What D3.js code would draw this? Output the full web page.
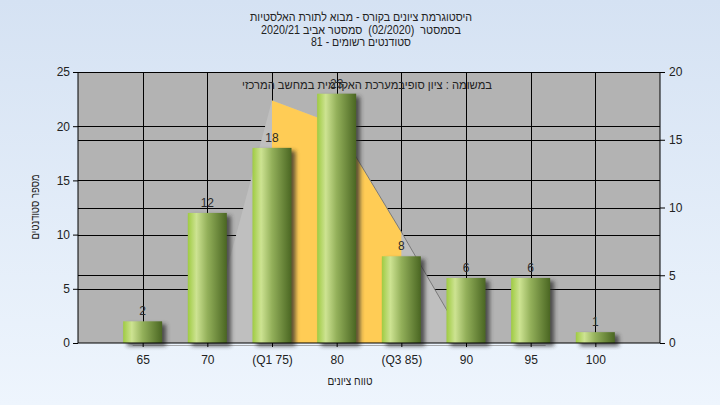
<!DOCTYPE html>
<html><head><meta charset="utf-8">
<script src="https://cdnjs.cloudflare.com/ajax/libs/d3/7.8.5/d3.min.js"></script>
<style>
html,body{margin:0;padding:0;}
svg{display:block;font-family:"Liberation Sans","DejaVu Sans",sans-serif;}
</style>
</head><body>
<svg id="c" width="720" height="405"></svg>
<script>
const titleLines = ["היסטוגרמת ציונים בקורס - מבוא לתורת האלסטיות", "בסמסטר  (02/2020)  סמסטר אביב 2020/21", "סטודנטים רשומים - 81"];
const seriesNote = "במשומה : ציון סופיבמערכת האקדמית במחשב המרכזי";
const yTitle = "מספר סטודנטים";
const xTitle = "טווח ציונים";
const categories = ["65", "70", "(Q1 75)", "80", "(Q3 85)", "90", "95", "100"];
const counts = [2, 12, 18, 23, 8, 6, 6, 1];
const curveCats = ["70", "(Q1 75)", "80", "(Q3 85)", "90"];
const curveVals = [0, 17.9, 16.1, 8.2, 0];
const iqrCats = ["(Q1 75)", "80", "(Q3 85)"];
const leftTicks = [0, 5, 10, 15, 20, 25];
const rightTicks = [0, 5, 10, 15, 20];

const svg = d3.select("#c");
const W = 720, H = 405;
const L = 78, R = 660, T = 72, B = 343;

const defs = svg.append("defs");
const bg = defs.append("linearGradient").attr("id","bg").attr("x1",0).attr("y1",0).attr("x2",0).attr("y2",1);
bg.append("stop").attr("offset","0%").attr("stop-color","#d5e2f3");
bg.append("stop").attr("offset","100%").attr("stop-color","#eef5fd");
const bar = defs.append("linearGradient").attr("id","bar").attr("x1",0).attr("y1",0).attr("x2",1).attr("y2",0);
[["0%","#9fcb42"],["22%","#cde392"],["50%","#93b05a"],["100%","#4a6622"]].forEach(s=>bar.append("stop").attr("offset",s[0]).attr("stop-color",s[1]));
const blur = defs.append("filter").attr("id","blur").attr("x","-30%").attr("y","-30%").attr("width","160%").attr("height","160%");
blur.append("feGaussianBlur").attr("stdDeviation",2);

svg.append("rect").attr("width",W).attr("height",H).attr("fill","url(#bg)");

const x = d3.scalePoint().domain(categories).range([L, R]).padding(1);
const yL = d3.scaleLinear().domain([0, 25]).range([B, T]);
const yR = d3.scaleLinear().domain([0, 20]).range([B, T]);

svg.append("rect").attr("x",L).attr("y",T).attr("width",R-L).attr("height",B-T).attr("fill","#b3b3b3");

// grid
const grid = svg.append("g").attr("stroke","#000").attr("stroke-width",1);
leftTicks.filter(v=>v>0).forEach(v=>grid.append("line").attr("x1",L).attr("x2",R).attr("y1",Math.round(yL(v))+0.5).attr("y2",Math.round(yL(v))+0.5));
rightTicks.filter(v=>v>0).forEach(v=>grid.append("line").attr("x1",L).attr("x2",R).attr("y1",Math.round(yR(v))+0.5).attr("y2",Math.round(yR(v))+0.5));
categories.forEach(c=>grid.append("line").attr("x1",Math.round(x(c))+0.5).attr("x2",Math.round(x(c))+0.5).attr("y1",T).attr("y2",B));

// curve areas
const curve = curveCats.map((c,i)=>({c, v: curveVals[i]}));
const area = d3.area().x(d=>x(d.c)).y0(B).y1(d=>yR(d.v));
svg.append("line").attr("x1",x("65")-10).attr("x2",x("95")+15).attr("y1",B+2.5).attr("y2",B+2.5).attr("stroke","#8a8a8a").attr("stroke-width",1).attr("opacity",0.7);
svg.append("path").attr("d",area(curve)).attr("fill","#bfbfbf");
svg.append("path").attr("d",area(curve.filter(d=>iqrCats.includes(d.c)))).attr("fill","#ffcc55");
const line = d3.line().x(d=>x(d.c)).y(d=>yR(d.v));
svg.append("path").attr("d",line(curve.slice(2))).attr("fill","none").attr("stroke","#7a7a7a").attr("stroke-width",1);

// note text
svg.append("text").attr("x",367).attr("y",89).attr("text-anchor","middle").attr("direction","rtl")
  .attr("font-size",12).attr("fill","#222").attr("textLength",250).attr("lengthAdjust","spacingAndGlyphs").text(seriesNote);

// bars
const bw = 39;
const bars = svg.append("g");
categories.forEach((c,i)=>{
  const v = counts[i];
  const y0 = yL(v);
  bars.append("rect").attr("x",x(c)-bw/2+4).attr("y",y0+3).attr("width",bw).attr("height",B-y0).attr("fill","#2a2a2a").attr("opacity",0.75).attr("filter","url(#blur)");
});
categories.forEach((c,i)=>{
  const v = counts[i];
  const y0 = yL(v);
  bars.append("rect").attr("x",x(c)-bw/2).attr("y",y0).attr("width",bw).attr("height",B-y0).attr("fill","url(#bar)");
  bars.append("text").attr("x",x(c)).attr("y",y0-6).attr("text-anchor","middle").attr("font-size",12).attr("fill","#2a2a2a").text(v);
});

// axes
const axL = svg.append("g").attr("transform",`translate(${L},0)`).call(d3.axisLeft(yL).tickValues(leftTicks).tickSize(5).tickPadding(3));
const axR = svg.append("g").attr("transform",`translate(${R},0)`).call(d3.axisRight(yR).tickValues(rightTicks).tickSize(5).tickPadding(4));
const axB = svg.append("g").attr("transform",`translate(0,${B})`).call(d3.axisBottom(x).tickSize(4).tickPadding(8));
[axL,axR,axB].forEach(a=>{
  a.select(".domain").attr("stroke","#000");
  a.selectAll(".tick line").attr("stroke","#000");
  a.selectAll("text").attr("font-size",12).attr("fill","#222").attr("font-family","Liberation Sans, DejaVu Sans, sans-serif");
});
axL.select(".domain").attr("d",`M0,${T}V${B}`);
axR.select(".domain").attr("d",`M0,${T}V${B}`);
axB.select(".domain").attr("d",`M${L},0H${R}`);
svg.append("line").attr("x1",L).attr("x2",R).attr("y1",T+0.5).attr("y2",T+0.5).attr("stroke","#000");

// titles
const titleWidths = [222, 200, 100];
const tg = svg.append("g").attr("font-size",12).attr("fill","#222").attr("text-anchor","middle").attr("direction","rtl");
titleLines.forEach((t,i)=>tg.append("text").attr("x",361).attr("y",21+i*12.5)
  .style("white-space","pre").attr("textLength",titleWidths[i]).attr("lengthAdjust","spacingAndGlyphs").text(t));
svg.append("text").attr("x",350).attr("y",385).attr("text-anchor","middle").attr("direction","rtl").attr("font-size",12).attr("fill","#222")
  .attr("textLength",45).attr("lengthAdjust","spacingAndGlyphs").text(xTitle);
svg.append("text").attr("transform","translate(39,207) rotate(-90)").attr("text-anchor","middle").attr("direction","rtl").attr("font-size",12).attr("fill","#222")
  .attr("textLength",65).attr("lengthAdjust","spacingAndGlyphs").text(yTitle);
</script>
</body></html>
